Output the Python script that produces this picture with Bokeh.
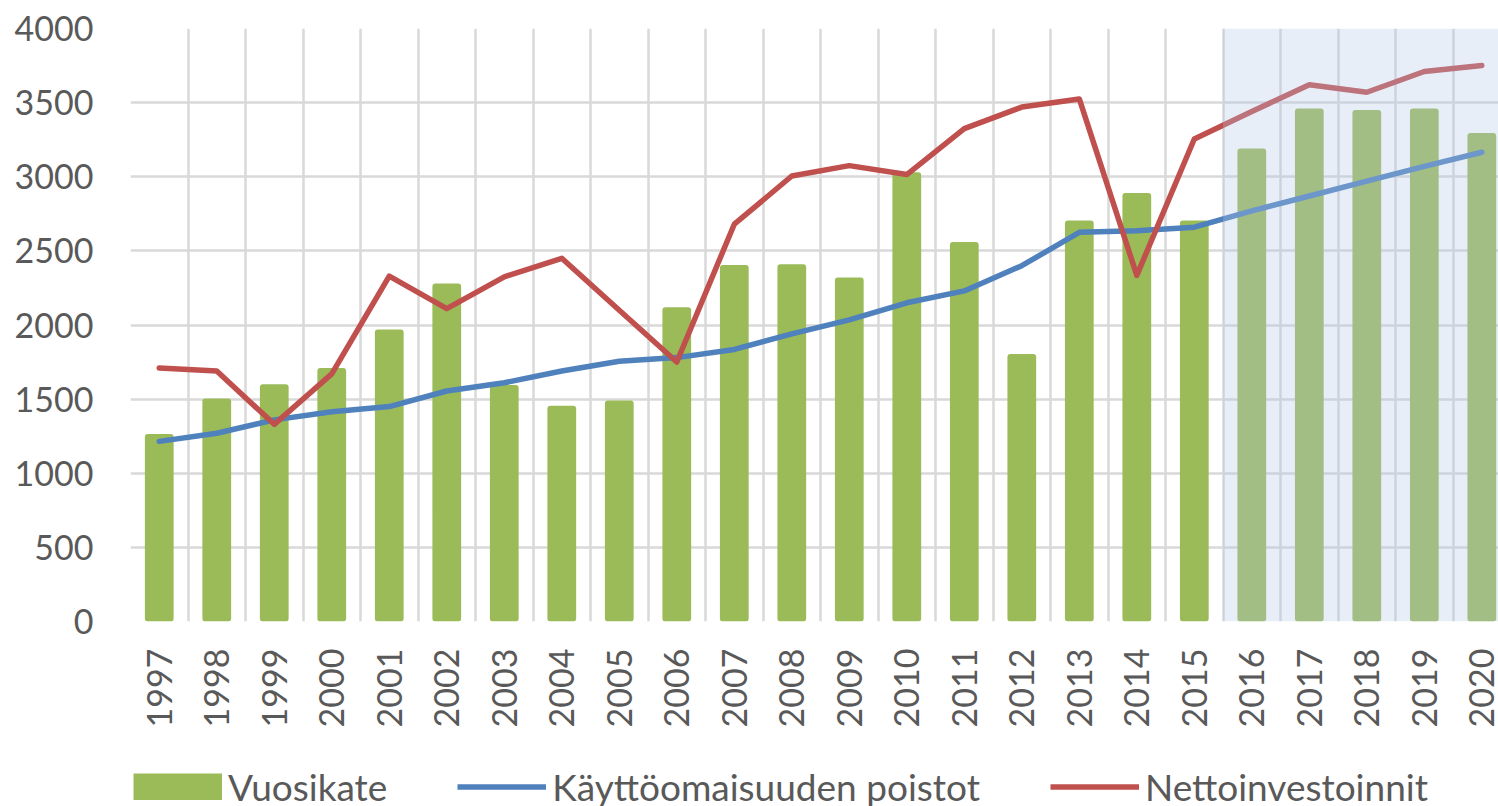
from bokeh.plotting import figure
from bokeh.layouts import column
from bokeh.models import (Range1d, FixedTicker, BoxAnnotation,
                          Legend, LegendItem, ColumnDataSource)
from bokeh.embed import file_html
from bokeh.resources import INLINE
import math

years = [1997, 1998, 1999, 2000, 2001, 2002, 2003, 2004, 2005, 2006, 2007, 2008,
         2009, 2010, 2011, 2012, 2013, 2014, 2015, 2016, 2017, 2018, 2019, 2020]
vuosikate = [1265, 1505, 1600, 1710, 1970, 2280, 1595, 1455, 1490, 2120, 2405, 2410,
             2320, 3030, 2560, 1805, 2705, 2890, 2705, 3190, 3460, 3450, 3460, 3295]
poistot = [1215, 1270, 1360, 1415, 1450, 1555, 1610, 1690, 1755, 1780, 1835, 1940,
           2035, 2150, 2230, 2400, 2625, 2635, 2660, 2770, 2870, 2970, 3070, 3165]
netto = [1710, 1690, 1330, 1670, 2330, 2110, 2325, 2450, 2100, 1750, 2680, 3005,
         3075, 3015, 3325, 3470, 3525, 2335, 3255, 3440, 3620, 3570, 3710, 3750]
forecast_start = 2016
y_ticks = [0, 500, 1000, 1500, 2000, 2500, 3000, 3500, 4000]
series_names = ["Vuosikate", "Käyttöomaisuuden poistot", "Nettoinvestoinnit"]

FONT = "Lato"
TXT = "#595959"
GRID = "#D9D9D9"
GREEN, BLUE, RED = "#9BBB59", "#4F81BD", "#C0504D"

src = ColumnDataSource(dict(x=years, v=vuosikate, p=poistot, n=netto))

p = figure(width=1498, height=750, output_backend="svg", toolbar_location=None,
           x_range=Range1d(years[0] - 0.5, years[-1] + 0.29),
           y_range=Range1d(y_ticks[0], y_ticks[-1]),
           min_border_left=130, min_border_right=0, min_border_top=28,
           min_border_bottom=129)
p.outline_line_color = None
p.background_fill_color = "white"

bars = p.vbar(x="x", top="v", bottom=0, width=0.5, source=src,
              fill_color=GREEN, line_color=None, border_radius=3)
l1 = p.line(x="x", y="p", source=src, line_color=BLUE, line_width=5.5,
            line_cap="round", line_join="round")
l2 = p.line(x="x", y="n", source=src, line_color=RED, line_width=5.5,
            line_cap="round", line_join="round")

shade = BoxAnnotation(left=forecast_start - 0.5, fill_color="#B4C7E7", fill_alpha=0.3,
                      line_color=None)
p.add_layout(shade)

p.xaxis.ticker = FixedTicker(ticks=years)
p.yaxis.ticker = FixedTicker(ticks=y_ticks)
for ax in (p.xaxis[0], p.yaxis[0]):
    ax.axis_line_color = None
    ax.major_tick_line_color = None
    ax.minor_tick_line_color = None
    ax.major_tick_out = 0
    ax.major_tick_in = 0
    ax.major_label_text_font = FONT
    ax.major_label_text_font_size = "34px"
    ax.major_label_text_color = TXT
p.xaxis.major_label_orientation = math.pi / 2
p.xaxis.major_label_standoff = 27
p.yaxis.major_label_standoff = 37

p.xgrid.ticker = FixedTicker(ticks=[y - 0.5 for y in years])
p.xgrid.grid_line_color = GRID
p.xgrid.grid_line_width = 2.5
p.ygrid.grid_line_color = GRID
p.ygrid.grid_line_width = 2.5

# legend strip below the chart (its swatches are drawn by off-range glyphs)
lg = figure(width=1498, height=56, output_backend="svg", toolbar_location=None,
            x_range=Range1d(0, 1), y_range=Range1d(0, 1),
            x_axis_type=None, y_axis_type=None,
            min_border_left=130, min_border_top=0, min_border_right=0,
            min_border_bottom=0)
lg.outline_line_color = None
lg.grid.visible = False
g1 = lg.line(x=[5, 6], y=[5, 5], line_color=GREEN, line_width=27, line_cap="butt")
g2 = lg.line(x=[5, 6], y=[5, 5], line_color=BLUE, line_width=5.5, line_cap="butt")
g3 = lg.line(x=[5, 6], y=[5, 5], line_color=RED, line_width=5.5, line_cap="butt")

legend = Legend(items=[LegendItem(label=series_names[0], renderers=[g1]),
                       LegendItem(label=series_names[1], renderers=[g2]),
                       LegendItem(label=series_names[2], renderers=[g3])],
                orientation="horizontal", location=(3, -3),
                glyph_width=89, glyph_height=27, label_standoff=6, spacing=70,
                padding=0, margin=0, border_line_color=None,
                background_fill_alpha=0,
                label_text_font=FONT, label_text_font_size="37px",
                label_text_color=TXT)
lg.add_layout(legend, "center")

open("out.html", "w").write(file_html(column(p, lg, spacing=0), INLINE))
